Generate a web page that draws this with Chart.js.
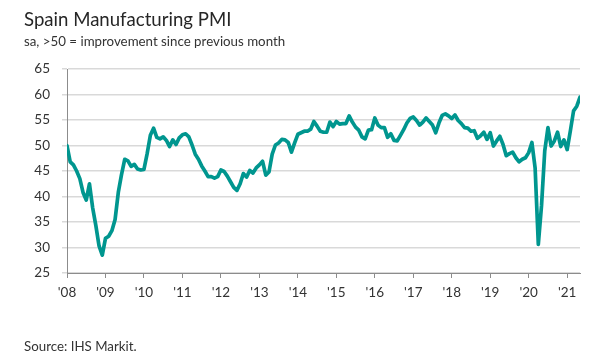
<!DOCTYPE html>
<html>
<head>
<meta charset="utf-8">
<script src="https://cdn.jsdelivr.net/npm/chart.js@4/dist/chart.umd.min.js"></script>
<style>
  html, body { margin: 0; padding: 0; background: #fff; }
  #wrap { position: relative; width: 593px; height: 354px; overflow: hidden; font-family: Lato, "Noto Sans", sans-serif; }
  #c { position: absolute; left: 0; top: 0; }
  .t { position: absolute; left: 24px; white-space: nowrap; color: #333; }
  #title { top: 10px; font-size: 18.6px; line-height: 18px; color: #262626; }
  #sub { top: 35px; font-size: 13.3px; line-height: 13px; }
  #src { top: 340px; font-size: 13.3px; line-height: 13px; }
</style>
</head>
<body>
<div id="wrap">
  <canvas id="c" width="593" height="354"></canvas>
  <div class="t" id="title">Spain Manufacturing PMI</div>
  <div class="t" id="sub">sa, &gt;50 = improvement since previous month</div>
  <div class="t" id="src">Source: IHS Markit.</div>
</div>
<script>
// Tick labels (one per January)
const yearLabels = ["'08","'09","'10","'11","'12","'13","'14","'15","'16","'17","'18","'19","'20","'21"];

// Monthly PMI values
const pmi2008 = [50.0, 46.8, 46.2, 45.0, 43.5, 40.8, 39.3, 42.5, 37.8, 34.3, 30.3, 28.5];
const pmi2009 = [31.8, 32.2, 33.3, 35.5, 40.8, 44.3, 47.3, 47.0, 45.9, 46.3, 45.4, 45.2];
const pmi2010 = [45.3, 48.4, 52.0, 53.4, 51.6, 51.3, 51.7, 51.0, 49.8, 51.1, 50.2, 51.5];
const pmi2011 = [52.1, 52.3, 51.7, 50.1, 48.3, 47.3, 46.0, 45.0, 43.9, 43.9, 43.6, 43.9];
const pmi2012 = [45.2, 44.9, 44.0, 42.9, 41.8, 41.2, 42.5, 44.5, 43.8, 45.1, 44.6, 45.6];
const pmi2013 = [46.2, 46.9, 44.2, 44.8, 48.3, 50.1, 50.5, 51.2, 51.1, 50.6, 48.7, 50.5];
const pmi2014 = [52.2, 52.5, 52.8, 52.8, 53.2, 54.7, 53.8, 52.8, 52.6, 52.6, 54.6, 53.7];
const pmi2015 = [54.7, 54.2, 54.3, 54.3, 55.8, 54.6, 53.6, 53.0, 51.7, 51.3, 53.0, 53.1];
const pmi2016 = [55.4, 54.0, 53.5, 53.5, 51.6, 52.3, 51.0, 50.9, 52.0, 53.1, 54.4, 55.3];
const pmi2017 = [55.6, 54.9, 54.0, 54.6, 55.4, 54.7, 54.0, 52.5, 54.4, 55.9, 56.2, 55.8];
const pmi2018 = [55.3, 56.0, 54.9, 54.3, 53.5, 53.4, 52.8, 52.9, 51.4, 51.9, 52.6, 51.2];
const pmi2019 = [52.5, 49.9, 50.9, 51.8, 50.2, 48.0, 48.4, 48.7, 47.6, 46.8, 47.3, 47.6];
const pmi2020 = [48.6, 50.6, 45.6, 30.6, 38.2, 48.9, 53.5, 49.9, 50.9, 52.6, 49.8, 51.1];
const pmi2021 = [49.2, 52.9, 56.8, 57.7, 59.5];

const pmi = [].concat(pmi2008, pmi2009, pmi2010, pmi2011, pmi2012, pmi2013, pmi2014,
                      pmi2015, pmi2016, pmi2017, pmi2018, pmi2019, pmi2020, pmi2021);
const points = pmi.map((v, i) => ({ x: i, y: v }));

const tickFont = { family: "Lato, 'Noto Sans', sans-serif", size: 13.5 };

new Chart(document.getElementById('c'), {
  type: 'line',
  data: {
    datasets: [{
      data: points,
      borderColor: '#00968f',
      borderWidth: 3.7,
      pointRadius: 0,
      tension: 0,
      borderJoinStyle: 'round',
      borderCapStyle: 'round',
      fill: false
    }]
  },
  options: {
    responsive: false,
    animation: false,
    devicePixelRatio: 1,
    layout: { padding: { left: 0, right: 13, top: 69, bottom: 0 } },
    plugins: { legend: { display: false }, tooltip: { enabled: false }, title: { display: false } },
    scales: {
      x: {
        type: 'linear',
        min: 0,
        max: pmi.length - 1,
        afterBuildTicks: (s) => { s.ticks = yearLabels.map((_, i) => ({ value: i * 12 })); },
        afterFit: (s) => { s.height = 81; },
        ticks: {
          autoSkip: false,
          maxRotation: 0,
          padding: 7,
          color: '#333',
          font: tickFont,
          callback: (v) => yearLabels[Math.round(v / 12)]
        },
        grid: { drawOnChartArea: false, drawTicks: true, tickLength: 5, color: '#8c8c8c' },
        border: { display: true, color: '#8c8c8c', width: 1 }
      },
      y: {
        min: 25,
        max: 65,
        afterFit: (s) => { s.width = 67; },
        ticks: { stepSize: 5, padding: 12, color: '#333', font: tickFont },
        grid: { color: '#d9d9d9', lineWidth: 1.5, tickLength: 5 },
        border: { display: true, color: '#8c8c8c', width: 1 }
      }
    }
  }
});
</script>
</body>
</html>
